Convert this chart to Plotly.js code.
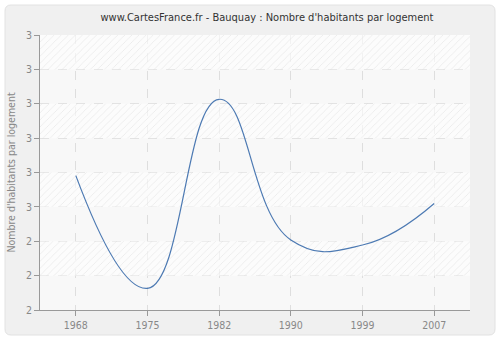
<!DOCTYPE html>
<html>
<head>
<meta charset="utf-8">
<script src="https://cdn.plot.ly/plotly-3.0.1.min.js"></script>
<style>html,body{margin:0;padding:0;background:#fff;}#chart{width:500px;height:340px;}</style>
</head>
<body>
<div id="chart"></div>
<script>
// Data
const years = ['1968', '1975', '1982', '1990', '1999', '2007'];
const habitantsParLogement = [2.591, 2.263, 2.813, 2.404, 2.389, 2.510];
const yTickVals = [2.2, 2.3, 2.4, 2.5, 2.6, 2.7, 2.8, 2.9, 3.0];
const yTickText = ['2', '2', '2', '3', '3', '3', '3', '3', '3'];
// hatched background bands (lower bound of each band, band height)
const bandBases = [2.3, 2.5, 2.7, 2.9];
const bandHeights = [0.1, 0.1, 0.1, 0.1];

const font = 'DejaVu Sans Condensed, DejaVu Sans, Verdana, sans-serif';

const bands = {
  type: 'bar',
  x: bandBases.map(() => 0.5),
  y: bandHeights,
  base: bandBases,
  width: 1,
  xaxis: 'x',
  yaxis: 'y',
  hoverinfo: 'skip',
  showlegend: false,
  marker: {
    color: 'rgba(255,255,255,0.6)',
    line: {width: 0},
    pattern: {shape: '/', fgcolor: 'rgba(220,220,220,0.6)', bgcolor: 'rgba(255,255,255,0.6)', size: 5, solidity: 0.15}
  }
};

const line = {
  type: 'scatter',
  mode: 'lines',
  x: years,
  y: habitantsParLogement,
  xaxis: 'x2',
  yaxis: 'y',
  line: {color: '#4d7ab3', width: 1.2, shape: 'spline', smoothing: 1.3},
  hoverinfo: 'x+y',
  showlegend: false
};

const layout = {
  width: 500, height: 340,
  margin: {l: 40, r: 30, t: 35, b: 30, pad: 0},
  paper_bgcolor: '#ffffff',
  plot_bgcolor: '#f8f8f8',
  barmode: 'overlay',
  title: {
    text: "www.CartesFrance.fr - Bauquay : Nombre d'habitants par logement",
    font: {family: font, size: 11, color: '#333333'},
    x: 0.534, xanchor: 'center', y: 0.95, yanchor: 'middle'
  },
  xaxis: {
    range: [0, 1], visible: false, showgrid: false, zeroline: false, fixedrange: true
  },
  xaxis2: {
    type: 'category',
    overlaying: 'x', anchor: 'y', side: 'bottom',
    range: [-0.5, 5.5],
    showgrid: true, gridcolor: '#dedede', griddash: 'dash', gridwidth: 1,
    showline: true, linecolor: '#999999', linewidth: 1,
    ticks: 'outside', ticklen: 5, tickcolor: '#999999',
    tickfont: {family: font, size: 10.5, color: '#888888'},
    zeroline: false, fixedrange: true
  },
  yaxis: {
    range: [2.2, 3.0],
    tickvals: yTickVals, ticktext: yTickText,
    showgrid: true, gridcolor: '#dedede', griddash: 'dash', gridwidth: 1,
    showline: true, linecolor: '#999999', linewidth: 1,
    ticks: 'outside', ticklen: 5, tickcolor: '#999999',
    tickfont: {family: font, size: 10.5, color: '#888888'},
    zeroline: false, fixedrange: true,
    title: {text: "Nombre d'habitants par logement", font: {family: font, size: 10.5, color: '#888888'}, standoff: 8}
  },
  shapes: [{
    type: 'path', layer: 'below', xref: 'paper', yref: 'paper',
    path: (function(){
      // rounded panel from pixel (5,5) to (495,335) expressed in paper coords
      const px = v => (v - 40) / 430, py = v => (310 - v) / 275;
      const r = 6;
      return 'M' + px(5 + r) + ',' + py(5) +
        ' L' + px(495 - r) + ',' + py(5) +
        ' Q' + px(495) + ',' + py(5) + ' ' + px(495) + ',' + py(5 + r) +
        ' L' + px(495) + ',' + py(335 - r) +
        ' Q' + px(495) + ',' + py(335) + ' ' + px(495 - r) + ',' + py(335) +
        ' L' + px(5 + r) + ',' + py(335) +
        ' Q' + px(5) + ',' + py(335) + ' ' + px(5) + ',' + py(335 - r) +
        ' L' + px(5) + ',' + py(5 + r) +
        ' Q' + px(5) + ',' + py(5) + ' ' + px(5 + r) + ',' + py(5) + ' Z';
    })(),
    fillcolor: '#f0f0f0', line: {color: '#e2e2e2', width: 1}
  }, {
    type: 'rect', layer: 'below', xref: 'paper', yref: 'paper',
    x0: 0, x1: 1, y0: 0, y1: 1,
    fillcolor: '#f8f8f8', line: {width: 0}
  }]
};

Plotly.newPlot('chart', [bands, line], layout, {displayModeBar: false, staticPlot: true});
</script>
</body>
</html>
